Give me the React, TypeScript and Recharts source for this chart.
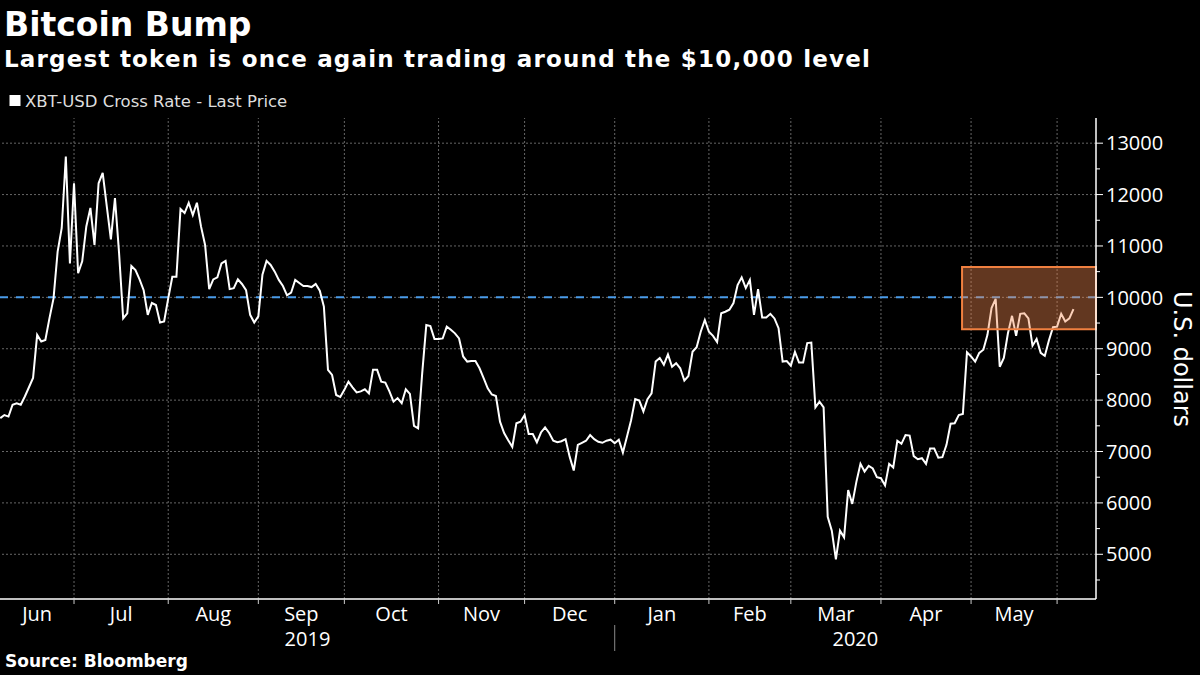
import React from "react";
import { LineChart, Line, XAxis, YAxis, ReferenceLine, ReferenceArea } from "recharts";

// XBT-USD daily (trading-day) closes, 5 Jun 2019 .. 5 Jun 2020, index = trading day
const prices = [
  7650, 7710, 7680, 7910, 7940, 7910, 8070, 8250, 8430, 9270,
  9140, 9170, 9590, 9980, 10890, 11350, 12740, 10660, 12220, 10470,
  10700, 11380, 11740, 11020, 12220, 12420, 11770, 11130, 11930, 10860,
  9590, 9690, 10610, 10530, 10350, 10140, 9660, 9890, 9850, 9510,
  9530, 9980, 10400, 10400, 11720, 11640, 11840, 11600, 11840, 11380,
  11020, 10160, 10350, 10390, 10660, 10710, 10160, 10180, 10350, 10260,
  10140, 9660, 9510, 9630, 10440, 10710, 10630, 10500, 10340, 10220,
  10040, 10090, 10340, 10280, 10220, 10220, 10200, 10260, 10130, 9820,
  8590, 8490, 8100, 8060, 8200, 8360, 8250, 8150, 8170, 8210,
  8130, 8590, 8590, 8360, 8340, 8170, 7970, 8040, 7940, 8210,
  8120, 7500, 7450, 8520, 9460, 9440, 9190, 9190, 9200, 9430,
  9370, 9300, 9200, 8850, 8750, 8760, 8760, 8620, 8430, 8230,
  8110, 8080, 7580, 7360, 7220, 7090, 7550, 7580, 7710, 7340,
  7340, 7180, 7370, 7470, 7360, 7210, 7180, 7200, 7240, 6900,
  6630, 7130, 7170, 7210, 7320, 7240, 7190, 7170, 7210, 7230,
  7160, 7230, 6980, 7290, 7610, 8020, 7990, 7780, 8020, 8130,
  8750, 8820, 8690, 8890, 8650, 8720, 8620, 8380, 8470, 8940,
  9030, 9330, 9560, 9330, 9250, 9130, 9690, 9720, 9760, 9890,
  10240, 10390, 10180, 10340, 9660, 10160, 9610, 9610, 9680, 9590,
  9400, 8750, 8760, 8670, 8940, 8730, 8730, 9110, 9120, 7860,
  7970, 7860, 5730, 5460, 4900, 5460, 5330, 6250, 5980, 6410,
  6760, 6610, 6720, 6670, 6500, 6480, 6340, 6760, 6690, 7210,
  7150, 7320, 7310, 6910, 6850, 6870, 6760, 7060, 7060, 6880,
  6890, 7130, 7540, 7550, 7710, 7730, 8930, 8850, 8750, 8920,
  8980, 9270, 9790, 9970, 8650, 8820, 9300, 9640, 9250, 9680,
  9690, 9590, 9060, 9190, 8920, 8860, 9160, 9420, 9430, 9680,
  9530, 9590, 9770,
];

// trading-day index of first trading day of each month (Jul 2019 .. Jun 2020)
const monthBoundaries = [18, 41, 63, 84, 107, 128, 150, 173, 193, 215, 237, 258];
const monthLabels = ["Jun", "Jul", "Aug", "Sep", "Oct", "Nov", "Dec", "Jan", "Feb", "Mar", "Apr", "May"];
const monthLabelPositions = [9, 29.5, 52, 73.5, 95.5, 117.5, 139, 161.5, 183, 204, 226, 247.5];
const yearLabels = ["2019", "2020"];
const yearLabelPositions = [75, 208.75];
const yearBoundary = 150;

const xDomain = [-0.07, 267.5];
const yDomain = [4130, 13490];
const yTicks = [4500, 5000, 5500, 6000, 6500, 7000, 7500, 8000, 8500, 9000, 9500, 10000, 10500, 11000, 11500, 12000, 12500, 13000];
const gridValues = [5000, 6000, 7000, 8000, 9000, 10000, 11000, 12000, 13000];
const referenceLevel = 10000;
const highlightX = [234.8, 267.5];
const highlightY = [9380, 10590];

const data = prices.map((p, i) => ({ i, price: p }));
const xTicks = [...monthBoundaries, ...monthLabelPositions, ...yearLabelPositions];

const FONT = "'Open Sans', 'Noto Sans', 'DejaVu Sans', sans-serif";
const WIDE = "'DejaVu Sans', 'Open Sans', sans-serif";

const XTick = (props: any) => {
  const { x, y, payload } = props;
  const v = payload.value;
  if (monthBoundaries.indexOf(v) >= 0) {
    return (
      <g>
        <line x1={x} x2={x} y1={y} y2={y + 5} stroke="#cccccc" strokeWidth={1} />
        {v === yearBoundary && <line x1={x} x2={x} y1={y + 26} y2={y + 52} stroke="#8a8a8a" strokeWidth={1} />}
      </g>
    );
  }
  const mi = monthLabelPositions.indexOf(v);
  if (mi >= 0) {
    return (
      <text x={x} y={y + 22} textAnchor="middle" fill="#ffffff" fontSize={20} fontFamily={FONT}>
        {monthLabels[mi]}
      </text>
    );
  }
  const yi = yearLabelPositions.indexOf(v);
  if (yi >= 0) {
    return (
      <text x={x} y={y + 47} textAnchor="middle" fill="#ffffff" fontSize={20} fontFamily={FONT}>
        {yearLabels[yi]}
      </text>
    );
  }
  return <g />;
};

const YTick = (props: any) => {
  const { x, y, payload } = props;
  const major = payload.value % 1000 === 0;
  return (
    <g>
      <line x1={x} x2={x + (major ? 7 : 4)} y1={y} y2={y} stroke="#ffffff" strokeWidth={1} />
      {major && (
        <text x={x + 10} y={y} dy="0.36em" fill="#ffffff" fontSize={20} fontFamily={FONT}>
          {payload.value}
        </text>
      )}
    </g>
  );
};

export default function App() {
  return (
    <div style={{ position: "absolute", left: 0, top: 0, width: 1200, height: 675, background: "#000000", overflow: "hidden" }}>
      <LineChart width={1200} height={675} data={data} margin={{ top: 118, right: 0, bottom: 0, left: 0 }}>
        {monthBoundaries.map((b) => (
          <ReferenceLine key={"vx" + b} x={b} stroke="#666666" strokeDasharray="2 2" strokeWidth={1} />
        ))}
        {gridValues.map((g) => (
          <ReferenceLine key={"hy" + g} y={g} stroke="#666666" strokeDasharray="2 2" strokeWidth={1} />
        ))}
        <ReferenceLine y={referenceLevel} stroke="#4a9be8" strokeDasharray="8 8" strokeWidth={2} />
        <XAxis
          dataKey="i"
          type="number"
          domain={xDomain}
          allowDataOverflow
          ticks={xTicks}
          interval={0}
          tick={<XTick />}
          tickLine={false}
          tickSize={0}
          tickMargin={0}
          height={76}
          axisLine={{ stroke: "#ffffff", strokeWidth: 1.5 }}
        />
        <YAxis
          orientation="right"
          type="number"
          domain={yDomain}
          allowDataOverflow
          ticks={yTicks}
          interval={0}
          tick={<YTick />}
          tickLine={false}
          tickSize={0}
          tickMargin={0}
          width={104}
          axisLine={{ stroke: "#ffffff", strokeWidth: 1.5 }}
        />
        <Line type="linear" dataKey="price" stroke="#ffffff" strokeWidth={2} dot={false} isAnimationActive={false} />
        <ReferenceArea
          x1={highlightX[0]}
          x2={highlightX[1]}
          y1={highlightY[0]}
          y2={highlightY[1]}
          fill="#f58a50"
          fillOpacity={0.4}
          stroke="#f08040"
          strokeWidth={2}
          strokeOpacity={1}
          ifOverflow="visible"
          zIndex={450}
        />
      </LineChart>
      <svg width={1200} height={675} style={{ position: "absolute", left: 0, top: 0, pointerEvents: "none" }}>
        <text x={4} y={36} fill="#ffffff" fontSize={33} fontWeight="bold" fontFamily={WIDE}>Bitcoin Bump</text>
        <text x={4} y={67} fill="#ffffff" fontSize={23} fontWeight="bold" fontFamily={WIDE} textLength={866} lengthAdjust="spacing">
          Largest token is once again trading around the $10,000 level
        </text>
        <rect x={9.5} y={95} width={11} height={11} fill="#ffffff" />
        <text x={25} y={106.5} fill="#dddddd" fontSize={16.5} fontFamily={WIDE}>XBT-USD Cross Rate - Last Price</text>
        <text x={1174} y={359} fill="#ffffff" fontSize={24} fontFamily={WIDE} textAnchor="middle" transform="rotate(90, 1174, 359)">
          U.S. dollars
        </text>
        <text x={5} y={667} fill="#ffffff" fontSize={17} fontWeight="bold" fontFamily={WIDE}>Source: Bloomberg</text>
      </svg>
    </div>
  );
}
